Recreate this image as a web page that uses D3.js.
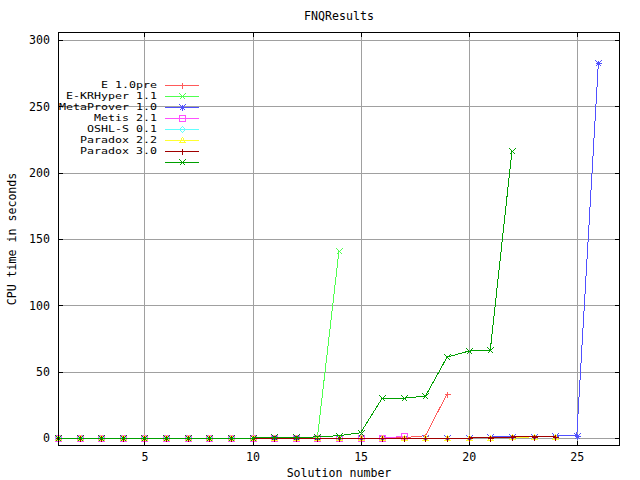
<!DOCTYPE html>
<html><head><meta charset="utf-8">
<script src="https://cdn.jsdelivr.net/npm/d3@7"></script>
<style>
html,body{margin:0;padding:0;background:#fff;}
svg{display:block;}
text{font-family:"DejaVu Sans Mono","Liberation Mono",monospace;font-size:11.6px;fill:#000;}
</style></head>
<body>
<script>
// ---- data ----
const seriesNames = ["E 1.0pre","E-KRHyper 1.1","MetaProver 1.0","Metis 2.1","OSHL-S 0.1","Paradox 2.2","Paradox 3.0",""];
const E_1_0pre   = [0,0,0,0,0,0,0,0,0,0,0,0,0,0,0,0,0.3,1.8,33.2];
const E_KRHyper  = [0,0,0,0,0,0,0,0,0,0,0,0,0.2,141];
const MetaProver = [0,0,0,0,0,0,0,0,0,0,0,0,0,0,0,0,0,0,0,0,0.8,0.8,0.9,1.6,1.8,282.6];
const Metis      = [0,0,0,0,0,0,0,0,0,0,0,0,0,0,0,0,1.2];
const OSHL_S     = [0,0,0,0,0,0,0,0,0];
const Paradox22  = [0,0,0,0,0,0,0,0,0,0,0,0,0,0,0,0,0,0,0,0,0.3,0.7,0.8,1.0];
const Paradox30  = [0,0,0,0,0,0,0,0,0,0,0,0,0,0,0,0,0,0,0,0,0.3,0.8,0.8,1.0];
const Unnamed    = [0,0,0,0,0,0,0,0,0,0,0.7,0.7,0.8,1.8,4.0,30.1,30.0,31.6,61.0,65.5,66.3,216];
const xTicks = [5,10,15,20,25];
const yTicks = [0,50,100,150,200,250,300];
const title = "FNQResults";
const xLabel = "Solution number";
const yLabel = "CPU time in seconds";

const seriesValues = [E_1_0pre,E_KRHyper,MetaProver,Metis,OSHL_S,Paradox22,Paradox30,Unnamed];
const colors = ["#ff5a5a","#50ff50","#5050ff","#ff50ff","#60ffff","#ffff30","#a00000","#00a000"];
const markers = ["plus","cross","star","square","diamond","triangle","plus","cross"];

const W=640,H=480;
const L=58,R=620,T=32,B=446;
const x = d3.scaleLinear().domain([1,27]).range([L,R]);
const y = d3.scaleLinear().domain([-6,306]).range([B,T]);

const svg = d3.select("body").append("svg").attr("width",W).attr("height",H);
svg.append("rect").attr("width",W).attr("height",H).attr("fill","#fff");

// grid
const grid = svg.append("g").attr("shape-rendering","crispEdges").attr("stroke","#a0a0a0").attr("stroke-width",1);
grid.selectAll(".gx").data(xTicks).enter().append("line")
  .attr("x1",d=>Math.round(x(d))+0.5).attr("x2",d=>Math.round(x(d))+0.5).attr("y1",T).attr("y2",B);
grid.selectAll(".gy").data(yTicks).enter().append("line")
  .attr("y1",d=>Math.round(y(d))+0.5).attr("y2",d=>Math.round(y(d))+0.5).attr("x1",L).attr("x2",R);

// axes
function styleAxis(g){ g.select(".domain").remove(); g.selectAll("line").attr("stroke","#000").attr("shape-rendering","crispEdges"); g.selectAll("text").attr("font-family",null).attr("font-size",null);} 
const gb = svg.append("g").attr("transform",`translate(0,${B})`)
  .call(d3.axisBottom(x).tickValues(xTicks).tickSize(-5).tickSizeOuter(0).tickPadding(7));
styleAxis(gb);
const gt = svg.append("g").attr("transform",`translate(0,${T})`)
  .call(d3.axisTop(x).tickValues(xTicks).tickSize(-5).tickSizeOuter(0).tickFormat(""));
styleAxis(gt);
const gl = svg.append("g").attr("transform",`translate(${L},0)`)
  .call(d3.axisLeft(y).tickValues(yTicks).tickSize(-5).tickSizeOuter(0).tickPadding(8));
styleAxis(gl);
const gr = svg.append("g").attr("transform",`translate(${R},0)`)
  .call(d3.axisRight(y).tickValues(yTicks).tickSize(-5).tickSizeOuter(0).tickFormat(""));
styleAxis(gr);

// markers
function marker(g,type,cx,cy,color){
  const s=3;
  const p=g.append("path").attr("fill","none").attr("stroke",color).attr("stroke-width",1).attr("shape-rendering","crispEdges");
  let d="";
  const X=Math.round(cx)+0.5, Y=Math.round(cy)+0.5;
  if(type==="plus") d=`M${X-s},${Y}H${X+s}M${X},${Y-s}V${Y+s}`;
  else if(type==="cross") d=`M${X-s},${Y-s}L${X+s},${Y+s}M${X-s},${Y+s}L${X+s},${Y-s}`;
  else if(type==="star") d=`M${X-s},${Y}H${X+s}M${X},${Y-s}V${Y+s}M${X-s},${Y-s}L${X+s},${Y+s}M${X-s},${Y+s}L${X+s},${Y-s}`;
  else if(type==="square") d=`M${X-s},${Y-s}H${X+s}V${Y+s}H${X-s}Z`;
  else if(type==="diamond") d=`M${X},${Y-s}L${X+s},${Y}L${X},${Y+s}L${X-s},${Y}Z`;
  else if(type==="triangle") d=`M${X},${Y-s}L${X+s},${Y+s-1}H${X-s}Z`;
  p.attr("d",d);
}

// series
const line = d3.line().x((d,i)=>x(i+1)).y(d=>y(d));
seriesValues.forEach((vals,k)=>{
  const g = svg.append("g");
  g.append("path").datum(vals).attr("d",line).attr("fill","none")
    .attr("stroke",colors[k]).attr("stroke-width",1).attr("shape-rendering","crispEdges");
  vals.forEach((v,i)=>marker(g,markers[k],x(i+1),y(v),colors[k]));
});

// border
svg.append("rect").attr("x",L+0.5).attr("y",T+0.5).attr("width",R-L-1).attr("height",B-T-1)
  .attr("fill","none").attr("stroke","#000").attr("shape-rendering","crispEdges");

// legend
const lg = svg.append("g");
seriesNames.forEach((name,k)=>{
  const yy = 85 + k*11;
  if(name.length){
    lg.append("text").attr("x",157).attr("y",yy).attr("dy","0.36em").attr("text-anchor","end")
      .style("font-size","9.4px").attr("textLength",name.length*7).attr("lengthAdjust","spacingAndGlyphs").text(name);
  }
  lg.append("line").attr("x1",165).attr("x2",199).attr("y1",yy+0.5).attr("y2",yy+0.5)
    .attr("stroke",colors[k]).attr("shape-rendering","crispEdges");
  marker(lg,markers[k],182,yy,colors[k]);
});

// titles
svg.append("text").attr("x",(L+R)/2).attr("y",16).attr("dy","0.35em").attr("text-anchor","middle").text(title);
svg.append("text").attr("x",(L+R)/2).attr("y",473).attr("dy","0.35em").attr("text-anchor","middle").text(xLabel);
svg.append("text").attr("transform",`translate(12,${(T+B)/2}) rotate(-90)`).attr("dy","0.35em").attr("text-anchor","middle").text(yLabel);
</script>
</body></html>
